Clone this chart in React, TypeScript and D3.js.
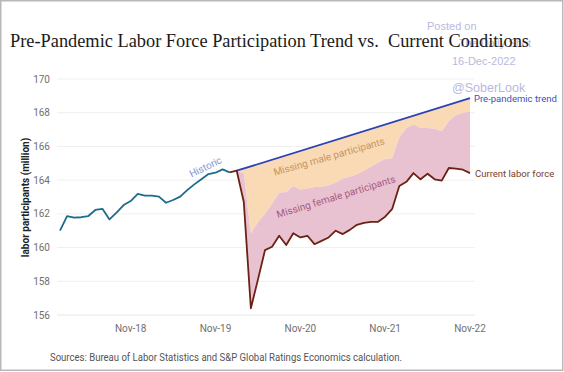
import React from "react";
import * as d3 from "d3";

// monthly values, Jan-18 onwards (million)
const historic = [
  161.0, 161.87, 161.78, 161.8, 161.87, 162.23, 162.3, 161.67, 162.07, 162.52, 162.76, 163.18,
  163.08, 163.08, 163.02, 162.66, 162.82, 163.02, 163.41, 163.75, 164.05, 164.36, 164.44, 164.64,
  164.46,
];
// current labor force, Jan-20 onwards
const current = [
  164.46, 164.56, 162.7, 156.4, 158.1, 159.85, 160.05, 160.7, 160.15, 160.85, 160.6, 160.7,
  160.2, 160.4, 160.6, 161.0, 160.8, 161.05, 161.35, 161.47, 161.53, 161.53, 161.83, 162.3,
  163.65, 163.9, 164.42, 164.05, 164.38, 164.05, 163.97, 164.72, 164.68, 164.62, 164.42,
];
// current + missing female participants, Jan-20 onwards
const withFemale = [
  164.46, 164.56, 164.4, 160.85, 161.5, 162.0, 162.6, 163.25, 163.3, 163.65, 163.45, 163.5,
  163.6, 163.6, 163.7, 163.85, 164.1, 164.2, 164.35, 164.55, 164.8, 165.05, 165.25, 165.3,
  166.55, 167.1, 167.3, 167.1, 167.1, 167.05, 166.9, 167.5, 167.85, 168.0, 168.05,
];
// pre-pandemic trend: Feb-20 -> Nov-22
const trendStart = { month: 25, value: 164.56 };
const trendEnd = { month: 58, value: 168.86 };

const yTicks = [156, 158, 160, 162, 164, 166, 168, 170];
const xTickMonths = [10, 22, 34, 46, 58];
const xTickLabels = ["Nov-18", "Nov-19", "Nov-20", "Nov-21", "Nov-22"];

const SANS = "Roboto, 'Liberation Sans', sans-serif";

const App = () => {
  const x = d3.scaleLinear().domain([0, 58]).range([60, 470]);
  const y = d3.scaleLinear().domain([156, 170]).range([315, 79]);

  const off = 24; // current series start at month 24 (Jan-20)
  const line = d3
    .line<[number, number]>()
    .x((d) => x(d[0]))
    .y((d) => y(d[1]));

  const histPts = historic.map((v, i) => [i, v] as [number, number]);
  const curPts = current.map((v, i) => [i + off, v] as [number, number]);
  const femPts = withFemale.map((v, i) => [i + off, v] as [number, number]);

  const pink = d3
    .area<number>()
    .x((_, i) => x(i + off))
    .y0((_, i) => y(current[i]))
    .y1((d) => y(d));

  // orange: between pre-pandemic trend and pink top
  const orangePts: [number, number][] = [
    [trendStart.month, trendStart.value],
    [trendEnd.month, trendEnd.value],
    ...femPts.filter((p) => p[0] >= trendStart.month).reverse(),
  ];

  return (
    <svg
      width={564}
      height={372}
      style={{ position: "absolute", left: 0, top: 0, background: "#fff" }}
    >
      <rect x={0.75} y={0.75} width={562} height={369.5} fill="#fff" stroke="#b8b8b8" strokeWidth={1.5} />

      {/* watermark */}
      <g fontFamily="'Liberation Sans', Arial, sans-serif" fontSize={11} fill="#b9b9dd">
        <text x={427} y={30}>Posted on</text>
        <text x={531} y={47} textAnchor="end">The Daily Shot</text>
        <text x={452} y={64.5}>16-Dec-2022</text>
      </g>

      <text
        x={10}
        y={47}
        fontFamily="'Liberation Serif', 'Times New Roman', serif"
        fontSize={18}
        fill="#1a1a1a"
        textLength={519}
        lengthAdjust="spacingAndGlyphs"
        style={{ whiteSpace: "pre" }}
      >
        Pre-Pandemic Labor Force Participation Trend vs.  Current Conditions
      </text>

      {/* grid */}
      {yTicks.map((t) => (
        <g key={t}>
          <line x1={57} x2={475} y1={y(t)} y2={y(t)} stroke={t === 156 ? "#e6e6e6" : "#efefef"} strokeWidth={1} />
          <text x={50} y={y(t) + 3.5} textAnchor="end" fontFamily={SANS} fontSize={10} fill="#707070">
            {t}
          </text>
        </g>
      ))}

      {xTickMonths.map((m, i) => (
        <text key={m} x={x(m)} y={332} textAnchor="middle" fontFamily={SANS} fontSize={10} fill="#707070">
          {xTickLabels[i]}
        </text>
      ))}

      <text
        transform="translate(29,197.5) rotate(-90)"
        textAnchor="middle"
        fontFamily={SANS}
        fontSize={10}
        fontWeight="bold"
        fill="#222"
      >
        labor participants (million)
      </text>

      {/* areas */}
      <path d={line(orangePts)! + "Z"} fill="#f9dab5" />
      <path d={pink(withFemale)!} fill="#e9c2d2" />

      {/* lines */}
      <path d={line(histPts)!} fill="none" stroke="#1d6c8b" strokeWidth={1.8} strokeLinejoin="round" />
      <path
        d={line([
          [trendStart.month, trendStart.value],
          [trendEnd.month, trendEnd.value],
        ])!}
        fill="none"
        stroke="#2b43b3"
        strokeWidth={1.8}
      />
      <path d={line(curPts)!} fill="none" stroke="#6b2212" strokeWidth={1.8} strokeLinejoin="round" />

      {/* annotations */}
      <text
        transform="translate(207,170) rotate(-26)"
        textAnchor="middle"
        fontFamily={SANS}
        fontSize={10}
        fill="#7a9ad6"
      >
        Historic
      </text>
      <text
        transform="translate(330,160) rotate(-16)"
        textAnchor="middle"
        fontFamily={SANS}
        fontSize={10}
        fill="#c8955e"
      >
        Missing male participants
      </text>
      <text
        transform="translate(337,200) rotate(-17)"
        textAnchor="middle"
        fontFamily={SANS}
        fontSize={10}
        fill="#a65a80"
      >
        Missing female participants
      </text>
      <text x={474} y={101.5} fontFamily={SANS} fontSize={9.5} fill="#3b52b5">
        Pre-pandemic trend
      </text>
      <text x={475} y={176.5} fontFamily={SANS} fontSize={9.5} fill="#7c3b2a">
        Current labor force
      </text>
      <text x={452} y={91.5} fontFamily="'Liberation Sans', Arial, sans-serif" fontSize={12.5} fill="#b9b9dd">
        @SoberLook
      </text>

      <text
        x={50}
        y={361}
        fontFamily={SANS}
        fontSize={10}
        fill="#555"
        textLength={352}
        lengthAdjust="spacingAndGlyphs"
      >
        Sources: Bureau of Labor Statistics and S&amp;P Global Ratings Economics calculation.
      </text>
    </svg>
  );
};

export default App;
